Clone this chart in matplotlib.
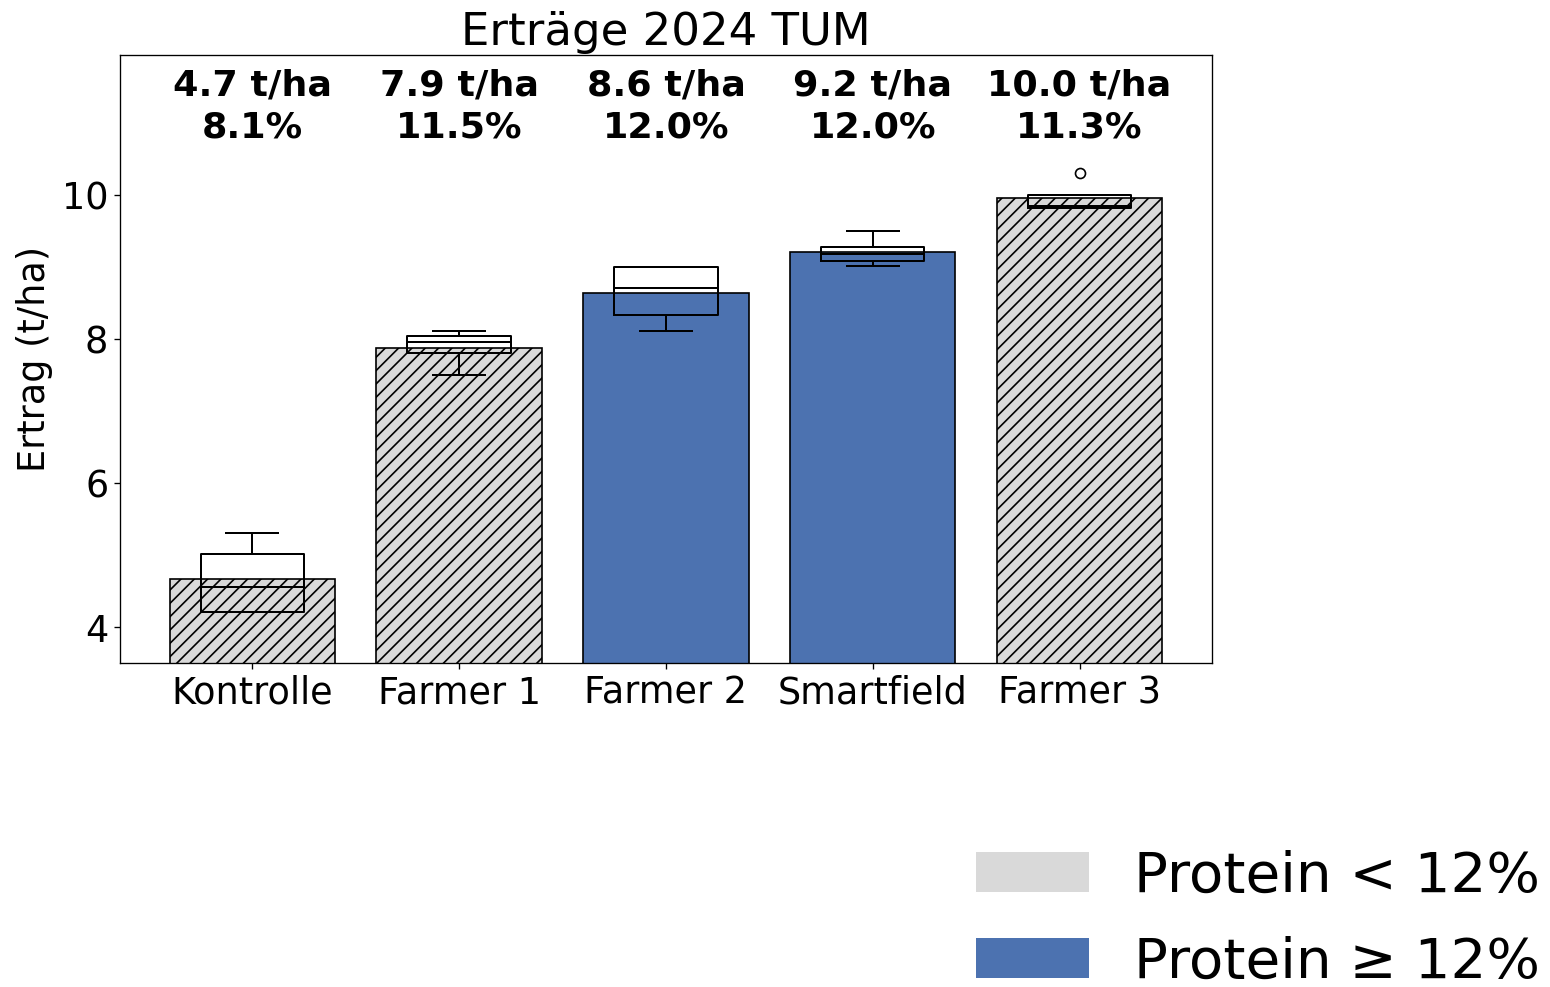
import matplotlib
matplotlib.use("Agg")
import matplotlib.pyplot as plt
from matplotlib.patches import Patch

categories = ["Kontrolle", "Farmer 1", "Farmer 2", "Smartfield", "Farmer 3"]
mean_yield = [4.67, 7.88, 8.64, 9.21, 9.96]
protein = [8.1, 11.5, 12.0, 12.0, 11.3]

# boxplot statistics (t/ha)
whislo = [4.21, 7.51, 8.11, 9.02, 9.83]
q1 = [4.21, 7.815, 8.34, 9.09, 9.83]
med = [4.56, 7.97, 8.71, 9.18, 9.86]
q3 = [5.02, 8.05, 9.01, 9.28, 10.01]
whishi = [5.31, 8.115, 9.01, 9.51, 10.01]
fliers = [[], [], [], [], [10.31]]

GREY = "#d9d9d9"
BLUE = "#4c72b0"

fig = plt.figure(figsize=(1550 / 120, 987 / 120), dpi=120)
ax = fig.add_axes([0.0774, 0.3283, 0.7045, 0.616])

x = list(range(len(categories)))
for i, (v, p) in enumerate(zip(mean_yield, protein)):
    high = p >= 12.0
    ax.bar(i, v, width=0.8, color=BLUE if high else GREY,
           edgecolor="black", linewidth=1.0,
           hatch=None if high else "///", zorder=1)

stats = []
for i in range(len(categories)):
    stats.append(dict(whislo=whislo[i], q1=q1[i], med=med[i], q3=q3[i],
                      whishi=whishi[i], fliers=fliers[i], label=categories[i]))
ax.bxp(stats, positions=x, widths=0.5, manage_ticks=False, patch_artist=False,
       boxprops=dict(color="black", linewidth=1.2),
       medianprops=dict(color="black", linewidth=1.2),
       whiskerprops=dict(color="black", linewidth=1.2),
       capprops=dict(color="black", linewidth=1.2),
       flierprops=dict(marker="o", markerfacecolor="none",
                       markeredgecolor="black", markersize=6),
       zorder=3)

ax.set_ylim(min(mean_yield) * 0.75, max(mean_yield) * 1.2)
ax.set_xlim(-0.64, 4.64)
ax.set_xticks(x)
ax.set_xticklabels(categories, fontsize=22)
ax.set_yticks([4, 6, 8, 10])
ax.tick_params(axis="y", labelsize=22)
ax.set_ylabel("Ertrag (t/ha)", fontsize=22, labelpad=5)
ax.set_title("Erträge 2024 TUM", fontsize=27)

for i, (v, p) in enumerate(zip(mean_yield, protein)):
    ax.text(i, 11.24, f"{v:.1f} t/ha\n{p:.1f}%", ha="center", va="center",
            fontsize=21.9, fontweight="bold", linespacing=1.3)

handles = [Patch(facecolor=GREY, edgecolor="none", label="Protein < 12%"),
           Patch(facecolor=BLUE, edgecolor="none", label="Protein ≥ 12%")]
fig.legend(handles=handles, loc="upper left", bbox_to_anchor=(0.597, 0.1905),
           frameon=False, fontsize=33.8, handlelength=2.0, handleheight=0.7,
           labelspacing=0.57)

fig.savefig("out.png", dpi=120)
